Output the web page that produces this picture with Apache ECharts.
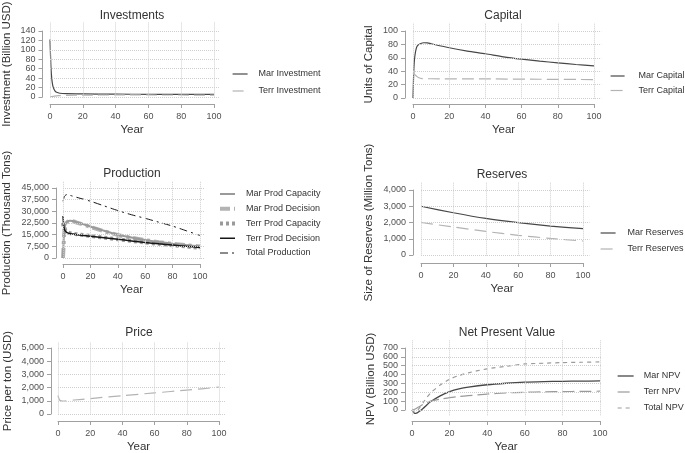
<!DOCTYPE html>
<html>
<head>
<meta charset="utf-8">
<script src="https://cdn.jsdelivr.net/npm/echarts@6/dist/echarts.min.js"></script>
<style>
  html, body { margin: 0; padding: 0; background: #fff; }
  #chart { width: 685px; height: 453px; }
</style>
</head>
<body>
<div id="chart"></div>
<script>
// x ticks, shared by every panel
const yearTicks = [0, 20, 40, 60, 80, 100];

// Investments
const investTicks = [0, 20, 40, 60, 80, 100, 120, 140];
const marInvestYears = [0, 0.3, 0.6, 1, 1.5, 2, 3, 4, 6, 10, 20, 40, 60, 80, 100];
const marInvestment = [122, 90, 62, 42, 28, 20, 13, 10, 8, 7, 6.5, 6, 5.7, 5.5, 5.4];
const terrInvestYears = [0, 2, 5, 10, 20, 40, 60, 80, 100];
const terrInvestment = [0.5, 1.5, 2.8, 3.5, 4, 4.3, 4.3, 4.2, 4];

// Capital
const capitalTicks = [0, 20, 40, 60, 80, 100];
const marCapYears = [0, 0.3, 0.6, 1, 1.7, 2.5, 4, 6, 8, 10, 20, 30, 40, 50, 60, 70, 80, 90, 100];
const marCapital = [0, 30, 50, 62, 73, 78, 81, 82.5, 82.3, 81, 75, 70, 66, 61.5, 58, 55, 52.5, 50, 48];
const terrCapYears = [0, 1, 2, 3, 5, 10, 40, 70, 100];
const terrCapital = [38, 35, 32.5, 30.5, 29, 28.7, 28.5, 28, 27.5];

// Production
const prodTicks = [0, 7500, 15000, 22500, 30000, 37500, 45000];
const prodYears = [0, 0.5, 1, 2, 3, 5, 7, 10, 20, 30, 40, 50, 60, 70, 80, 90, 100];
const marProdCap = [0, 12000, 19000, 22000, 23300, 24000, 23800, 23000, 20300, 17500, 15000, 13200, 11600, 10300, 9200, 8300, 7500];
const marProdDec = [0, 9000, 17000, 21500, 23000, 23800, 23600, 22800, 20000, 17200, 14800, 13000, 11500, 10200, 9100, 8200, 7400];
const terrProdCap = [22500, 20000, 18500, 17200, 16600, 16000, 15700, 15300, 14200, 13100, 12000, 11000, 10000, 9100, 8200, 7400, 6600];
const terrProdDec = [27000, 21000, 18500, 17000, 16300, 15700, 15400, 15000, 14000, 13000, 12000, 11000, 10000, 9100, 8300, 7500, 6800];
const totalProd = [36500, 38000, 39500, 40500, 40800, 40300, 39800, 39000, 36500, 33500, 30500, 27800, 25500, 23000, 20500, 17500, 14500];

// Reserves
const reserveTicks = [0, 1000, 2000, 3000, 4000];
const reserveYears = [0, 20, 40, 60, 80, 100];
const marReserves = [3000, 2600, 2250, 1990, 1780, 1620];
const terrReserves = [2000, 1720, 1450, 1210, 1020, 860];

// Price
const priceTicks = [0, 1000, 2000, 3000, 4000, 5000];
const priceYears = [0, 0.5, 1, 2, 3, 10, 20, 40, 60, 80, 100];
const terrPrice = [1400, 1200, 1060, 990, 985, 1060, 1170, 1390, 1600, 1810, 2030];

// Net Present Value
const npvTicks = [0, 100, 200, 300, 400, 500, 600, 700];
const npvYears = [0, 1, 2, 3, 4, 6, 8, 10, 15, 20, 25, 30, 40, 50, 60, 70, 80, 90, 100];
const marNPV = [0, -30, -38, -30, -15, 20, 60, 95, 160, 207, 238, 258, 285, 302, 314, 320, 324, 326, 328];
const terrNPV = [0, 5, 15, 28, 40, 65, 85, 100, 122, 140, 152, 162, 180, 192, 200, 205, 208, 210, 212];
const totalNPV = [0, -25, -23, -2, 25, 85, 145, 195, 282, 347, 390, 420, 465, 494, 520, 528, 535, 539, 543];

const pts = (xs, ys) => xs.map((x, i) => [x, ys[i]]);

const DARK = '#474747', MID = '#9a9a9a', LIGHT = '#b3b3b3', BLACK = '#161616';
const line = (color, width, type) => ({ color, width, type: type || 'solid' });

// box: pixel spots of x=0 / x=100 and of the lowest / highest y tick
const panels = [
  {
    title: 'Investments', tx: 132, ty: 9.5, yName: 'Investment (Billion USD)', yTicks: investTicks,
    box: { x0: 50, x1: 214, yb: 97, yt: 31, axX: 42.5, axY: 104, xEnd: 103, yTop: 158, yBot: -1 }, nameGap: 30,
    legend: { left: 232, top: 69, gap: 7, w: 15, pad: 6 },
    series: [
      { name: 'Mar Investment', data: pts(marInvestYears, marInvestment), ls: line(DARK, 1.2) },
      { name: 'Terr Investment', data: pts(terrInvestYears, terrInvestment), ls: line(LIGHT, 1.2, [11, 5]) }
    ]
  },
  {
    title: 'Capital', tx: 503, ty: 9.5, yName: 'Units of Capital', yTicks: capitalTicks,
    box: { x0: 413, x1: 594, yb: 98, yt: 31, axX: 405, axY: 104, xEnd: 104, yTop: 112, yBot: -1 }, nameGap: 30,
    legend: { left: 610, top: 71, gap: 4.5, w: 14, pad: 9 },
    series: [
      { name: 'Mar Capital', data: pts(marCapYears, marCapital), ls: line(DARK, 1.2) },
      { name: 'Terr Capital', data: pts(terrCapYears, terrCapital), ls: line(LIGHT, 1.2, [12, 5]) }
    ]
  },
  {
    title: 'Production', tx: 132, ty: 167.5, yName: 'Production (Thousand Tons)', yTicks: prodTicks,
    box: { x0: 63, x1: 200, yb: 258, yt: 188, axX: 56, axY: 264, xEnd: 103, yTop: 49000, yBot: -500 }, nameGap: 43,
    legend: { left: 218, top: 189, gap: 4.75, w: 15, pad: 6 },
    series: [
      { name: 'Mar Prod Capacity', data: pts(prodYears, marProdCap), ls: line(MID, 2), z: 3 },
      { name: 'Mar Prod Decision', data: pts(prodYears, marProdDec), ls: line(LIGHT, 4, [10, 4, 3, 4]), z: 2 },
      { name: 'Terr Prod Capacity', data: pts(prodYears, terrProdCap), ls: line(MID, 4, [3, 3]), z: 3 },
      { name: 'Terr Prod Decision', data: pts(prodYears, terrProdDec), ls: line(BLACK, 1.5), z: 4 },
      { name: 'Total Production', data: pts(prodYears, totalProd), ls: line(BLACK, 1, [8, 4, 2, 4]), z: 4 }
    ]
  },
  {
    title: 'Reserves', tx: 502, ty: 168.5, yName: 'Size of Reserves (Million Tons)', yTicks: reserveTicks,
    box: { x0: 421, x1: 583, yb: 255, yt: 190, axX: 413, axY: 263, xEnd: 104, yTop: 4490, yBot: -40 }, nameGap: 38,
    legend: { left: 600, top: 228, gap: 6, w: 15, pad: 7 },
    series: [
      { name: 'Mar Reserves', data: pts(reserveYears, marReserves), ls: line(DARK, 1.2) },
      { name: 'Terr Reserves', data: pts(reserveYears, terrReserves), ls: line(LIGHT, 1.2, [12, 6]) }
    ]
  },
  {
    title: 'Price', tx: 139, ty: 326.5, yName: 'Price per ton (USD)', yTicks: priceTicks,
    box: { x0: 58, x1: 219, yb: 414, yt: 348, axX: 51, axY: 421, xEnd: 104, yTop: 5450, yBot: -40 }, nameGap: 37,
    legend: null,
    series: [
      { name: 'Price', data: pts(priceYears, terrPrice), ls: line(LIGHT, 1.2, [12, 6]) }
    ]
  },
  {
    title: 'Net Present Value', tx: 507, ty: 326.5, yName: 'NPV (Billion USD)', yTicks: npvTicks,
    box: { x0: 412, x1: 600, yb: 410, yt: 348, axX: 405, axY: 421, xEnd: 101, yTop: 790, yBot: -60 }, nameGap: 28,
    legend: { left: 617, top: 371, gap: 6, w: 16, pad: 5 },
    series: [
      { name: 'Mar NPV', data: pts(npvYears, marNPV), ls: line(DARK, 1.3) },
      { name: 'Terr NPV', data: pts(npvYears, terrNPV), ls: line(MID, 1.2, [12, 5]) },
      { name: 'Total NPV', data: pts(npvYears, totalNPV), ls: line(MID, 1.2, [4, 4]) }
    ]
  }
];

const AXIS_GRAY = '#a0a0a0';
const fmt = (v) => v.toLocaleString('en-US');

const grid = [], xAxis = [], yAxis = [], series = [], title = [], legend = [];

panels.forEach((p, i) => {
  const b = p.box;
  const yLo = p.yTicks[0], yHi = p.yTicks[p.yTicks.length - 1];
  const sx = (b.x1 - b.x0) / 100;
  const sy = (b.yb - b.yt) / (yHi - yLo);
  const a = 2 * i, t = 2 * i + 1;

  // data grid (a bit wider than the ticks, like the plot region)
  grid.push({
    left: b.x0, width: b.xEnd * sx,
    top: b.yt - (b.yTop - yHi) * sy, height: (b.yTop - b.yBot) * sy,
    containLabel: false, outerBoundsMode: 'none'
  });
  // axis grid, spans exactly the tick range
  grid.push({
    left: b.x0, width: b.x1 - b.x0, top: b.yt, height: b.yb - b.yt,
    containLabel: false, outerBoundsMode: 'none'
  });

  xAxis.push({ gridIndex: a, type: 'value', min: 0, max: b.xEnd, show: false });
  yAxis.push({ gridIndex: a, type: 'value', min: b.yBot, max: b.yTop, show: false });

  xAxis.push({
    gridIndex: t, type: 'value', min: 0, max: 100, interval: 20,
    offset: b.axY - b.yb,
    axisLine: { show: true, onZero: false, lineStyle: { color: AXIS_GRAY, width: 1 } },
    axisTick: { show: true, length: 4, lineStyle: { color: AXIS_GRAY } },
    axisLabel: { color: '#505050', fontSize: 9, margin: 8.5, hideOverlap: false },
    splitLine: { show: false },
    name: 'Year', nameLocation: 'middle', nameGap: 20,
    nameTextStyle: { fontSize: 11.5, color: '#333' }
  });
  yAxis.push({
    gridIndex: t, type: 'value', min: yLo, max: yHi, interval: p.yTicks[1] - p.yTicks[0],
    offset: b.x0 - b.axX,
    axisLine: { show: true, onZero: false, lineStyle: { color: AXIS_GRAY, width: 1 } },
    axisTick: { show: true, length: 4, lineStyle: { color: AXIS_GRAY } },
    axisLabel: { color: '#505050', fontSize: 9, margin: 7, formatter: fmt, hideOverlap: false },
    splitLine: { show: false },
    name: p.yName, nameLocation: 'middle', nameGap: p.nameGap,
    nameTextStyle: { fontSize: 11.5, color: '#333' }
  });

  // dotted guide lines at every tick
  series.push({
    name: 'guides' + i, type: 'line', xAxisIndex: a, yAxisIndex: a, data: [], z: 1, silent: true,
    markLine: {
      silent: true, symbol: ['none', 'none'], label: { show: false },
      lineStyle: { type: 'dotted', color: '#cfcfcf', width: 1 },
      emphasis: { disabled: true },
      data: yearTicks.map((v) => ({ xAxis: v })).concat(p.yTicks.map((v) => ({ yAxis: v })))
    }
  });

  p.series.forEach((s) => {
    series.push({
      name: s.name, type: 'line', xAxisIndex: a, yAxisIndex: a, data: s.data,
      showSymbol: false, symbol: 'none', smooth: 0.25, z: s.z || 3,
      lineStyle: s.ls, itemStyle: { color: s.ls.color },
      emphasis: { disabled: true }
    });
  });

  title.push({
    text: p.title, left: p.tx, top: p.ty, textAlign: 'center', padding: 0,
    textStyle: { fontSize: 12, fontWeight: 'normal', color: '#333' }
  });

  if (p.legend) {
    const l = p.legend;
    legend.push({
      data: p.series.map((s) => s.name), orient: 'vertical', left: l.left, top: l.top,
      itemWidth: l.w, itemHeight: 10, itemGap: l.gap, padding: 0, selectedMode: false,
      // line icons only: hide the marker dot ECharts adds to line legends
      itemStyle: { opacity: 0, color: 'rgba(0,0,0,0)', borderColor: 'rgba(0,0,0,0)', borderWidth: 0 },
      lineStyle: { width: 'inherit', type: 'inherit', color: 'inherit' },
      textStyle: { fontSize: 9, color: '#333', lineHeight: 10, padding: [0, 0, 0, l.pad] }
    });
  }
});

const chart = echarts.init(document.getElementById('chart'));
chart.setOption({
  animation: false,
  backgroundColor: '#fff',
  textStyle: { fontFamily: 'Liberation Sans, Arial, sans-serif' },
  title, legend, grid, xAxis, yAxis, series
});
</script>
</body>
</html>
